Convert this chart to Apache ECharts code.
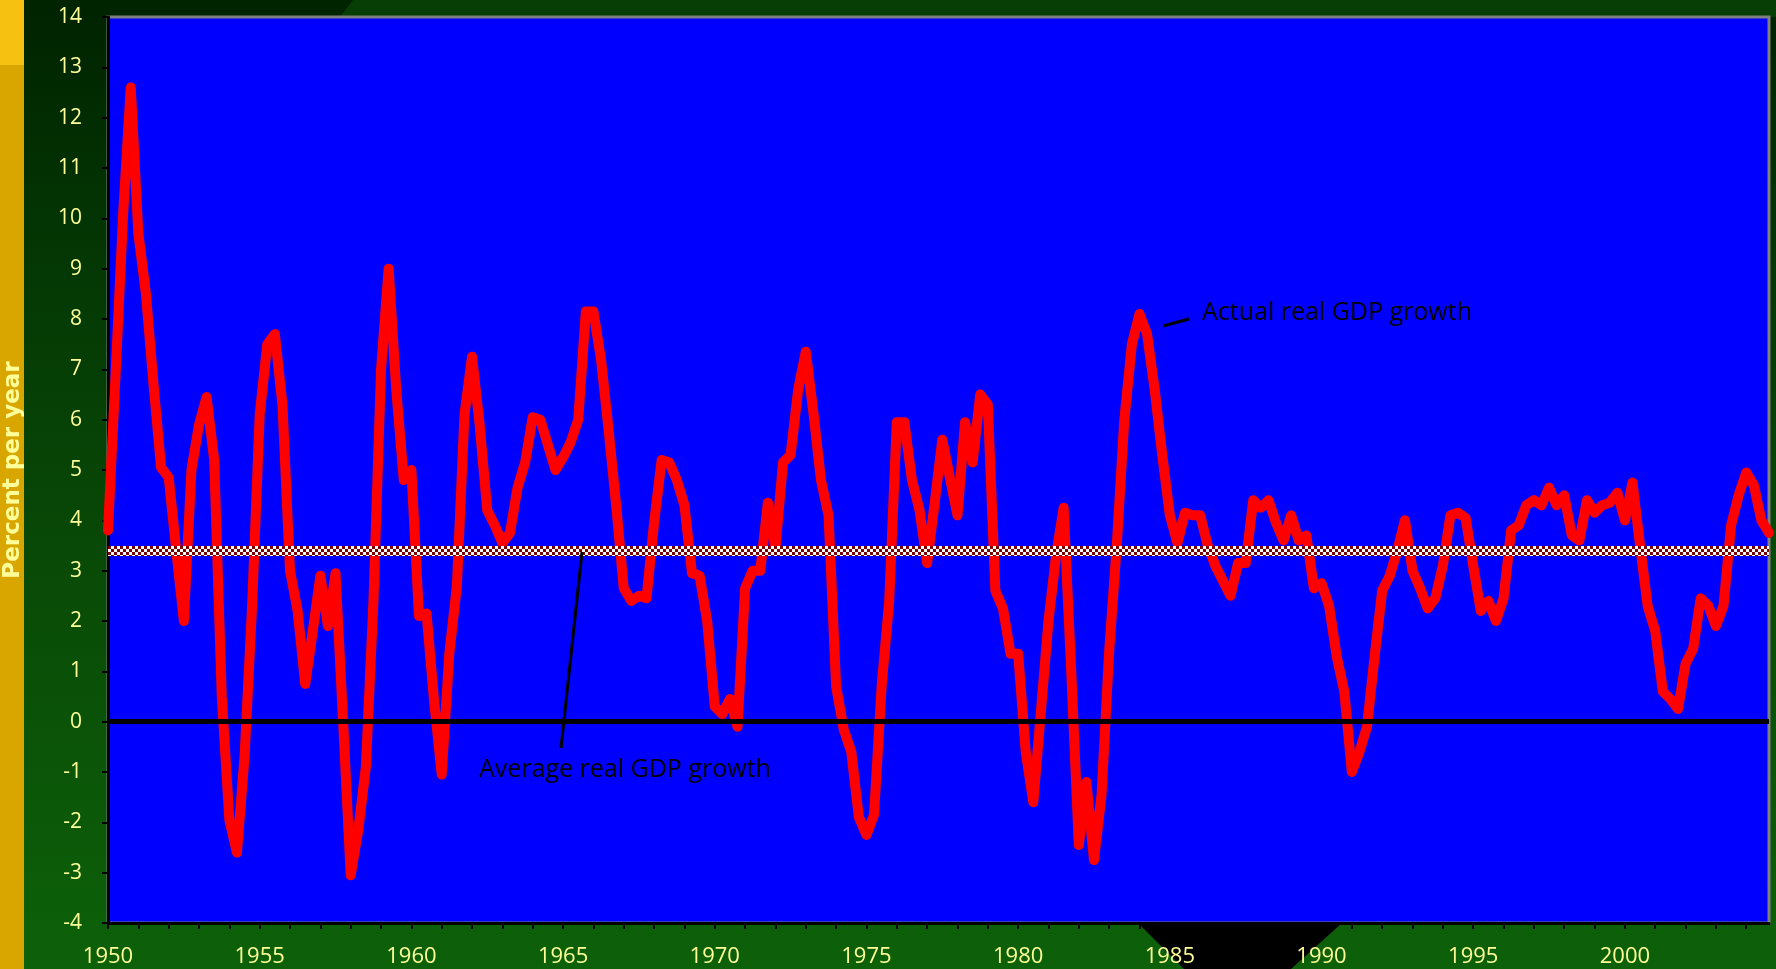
<!DOCTYPE html>
<html>
<head>
<meta charset="utf-8">
<title>Actual vs. average real GDP growth</title>
<script src="https://cdn.jsdelivr.net/npm/echarts@6/dist/echarts.min.js"></script>
<style>
  html, body { margin: 0; padding: 0; overflow: hidden; background: #043804; }
  #stage { position: relative; width: 1776px; height: 969px; overflow: hidden; }
  .deco { position: absolute; }
  #bg { left: 0; top: 0; width: 1776px; height: 969px;
        background: linear-gradient(to bottom, #002300 0%, #043804 28%, #094c07 62%, #0d6109 100%); }
  #topband { left: 0; top: 0; width: 1776px; height: 17px; background: #063e06;
             clip-path: polygon(353px 0, 1776px 0, 1776px 17px, 340px 17px); }
  #strip { left: 0; top: 0; width: 24px; height: 969px; background: #d9a600; }
  #stripTop { left: 0; top: 0; width: 24px; height: 65px; background: #f6c111; }
  #tab { left: 0; top: 0; width: 1776px; height: 969px; background: #000;
         clip-path: polygon(1138px 923px, 1342px 923px, 1291px 969px, 1184px 969px); }
  #chart { position: absolute; left: 0; top: 0; width: 1776px; height: 969px; }
</style>
</head>
<body>
<div id="stage">
  <div class="deco" id="bg"></div>
  <div class="deco" id="topband"></div>
  <div class="deco" id="strip"></div>
  <div class="deco" id="stripTop"></div>
  <div class="deco" id="tab"></div>
  <div id="chart"></div>
</div>
<script>
// Quarterly range of the series
const firstYear = 1950;
const lastYear = 2004;

// Year-over-year real GDP growth, percent, one value per quarter (1950Q1 .. 2004Q4)
const growth1950s = [
  3.8, 6.9, 10.1, 12.6, 9.7, 8.5, 6.7, 5.05, 4.85, 3.4,
  2.0, 5.0, 5.9, 6.45, 5.2, 0.5, -1.95, -2.6, -0.7, 2.3,
  6.1, 7.5, 7.7, 6.3, 3.0, 2.2, 0.75, 1.8, 2.9, 1.9,
  2.95, 0.0, -3.05, -2.15, -0.9, 2.4, 7.0, 9.0, 6.6, 4.8
];
const growth1960s = [
  5.0, 2.1, 2.15, 0.4, -1.05, 1.35, 2.7, 6.1, 7.25, 5.9,
  4.2, 3.9, 3.55, 3.75, 4.65, 5.15, 6.05, 6.0, 5.5, 5.0,
  5.25, 5.55, 6.0, 8.15, 8.15, 7.2, 5.8, 4.3, 2.65, 2.4,
  2.5, 2.45, 3.95, 5.2, 5.15, 4.8, 4.3, 2.95, 2.9, 2.0
];
const growth1970s = [
  0.3, 0.15, 0.45, -0.1, 2.65, 3.0, 3.0, 4.35, 3.45, 5.15,
  5.3, 6.6, 7.35, 6.15, 4.8, 4.1, 0.7, -0.15, -0.6, -1.9,
  -2.25, -1.85, 0.7, 2.4, 5.95, 5.95, 4.8, 4.2, 3.15, 4.35,
  5.6, 4.85, 4.1, 5.95, 5.15, 6.5, 6.3, 2.6, 2.25, 1.35
];
const growth1980s = [
  1.35, -0.6, -1.6, 0.2, 2.0, 3.3, 4.25, 1.0, -2.45, -1.2,
  -2.75, -1.45, 1.4, 3.5, 6.0, 7.5, 8.1, 7.7, 6.6, 5.3,
  4.1, 3.55, 4.15, 4.1, 4.1, 3.5, 3.1, 2.8, 2.5, 3.15,
  3.15, 4.4, 4.25, 4.4, 3.95, 3.6, 4.1, 3.6, 3.7, 2.65
];
const growth1990s = [
  2.75, 2.3, 1.3, 0.6, -1.0, -0.6, -0.1, 1.3, 2.6, 2.9,
  3.4, 4.0, 3.0, 2.65, 2.25, 2.45, 3.1, 4.1, 4.15, 4.05,
  3.1, 2.2, 2.4, 2.0, 2.45, 3.8, 3.9, 4.3, 4.4, 4.3,
  4.65, 4.3, 4.5, 3.7, 3.6, 4.4, 4.15, 4.3, 4.35, 4.55
];
const growth2000s = [
  4.0, 4.75, 3.5, 2.3, 1.8, 0.6, 0.45, 0.25, 1.15, 1.45,
  2.45, 2.3, 1.9, 2.3, 3.9, 4.5, 4.95, 4.7, 4.0, 3.75
];

// Long-run average growth drawn as the reference band
const averageGrowth = 3.4;

// Value axis range and step
const yMin = -4;
const yMax = 14;
const yStep = 1;

const growth = [].concat(growth1950s, growth1960s, growth1970s, growth1980s, growth1990s, growth2000s);

const quarters = [];
for (let y = firstYear; y <= lastYear; y++) {
  for (let q = 1; q <= 4; q++) quarters.push(y + 'Q' + q);
}

// Dark red / white checker used for the average line
const checker = document.createElement('canvas');
checker.width = 6; checker.height = 6;
(function () {
  const c = checker.getContext('2d');
  c.fillStyle = '#ffffff'; c.fillRect(0, 0, 6, 6);
  c.fillStyle = '#7c0000'; c.fillRect(0, 0, 3, 3); c.fillRect(3, 3, 3, 3);
})();

const labelColor = '#ffff99';
const textFont = 'Open Sans';
const chart = echarts.init(document.getElementById('chart'), null, { renderer: 'canvas' });

chart.setOption({
  backgroundColor: 'transparent',
  animation: false,
  grid: {
    left: 108, right: 7, top: 17, bottom: 46,
    outerBoundsMode: 'none',
    containLabel: false,
    show: true, backgroundColor: '#0000ff',
    borderColor: '#808080', borderWidth: 3
  },
  xAxis: {
    type: 'category',
    data: quarters,
    boundaryGap: false,
    axisLine: { show: true, onZero: false, lineStyle: { color: '#000', width: 3 } },
    axisTick: { show: true, interval: 3, length: 6, inside: false, lineStyle: { color: '#000', width: 2 } },
    axisLabel: {
      interval: 19, margin: 23, color: labelColor,
      fontFamily: textFont, fontSize: 22,
      formatter: v => v.slice(0, 4)
    },
    splitLine: { show: false }
  },
  yAxis: {
    type: 'value',
    min: yMin, max: yMax, interval: yStep,
    name: 'Percent per year',
    nameLocation: 'middle', nameRotate: 90, nameGap: 83,
    nameTextStyle: { color: labelColor, fontFamily: 'DejaVu Sans', fontWeight: 'bold', fontSize: 23 },
    axisLine: { show: true, onZero: false, lineStyle: { color: '#000', width: 3 } },
    axisTick: { show: true, length: 6, lineStyle: { color: '#000', width: 2 } },
    axisLabel: { margin: 26, color: labelColor, fontFamily: textFont, fontSize: 21 },
    splitLine: { show: false }
  },
  series: [
    {
      name: 'Actual real GDP growth',
      type: 'line',
      data: growth,
      showSymbol: false,
      symbol: 'none',
      silent: true,
      z: 3,
      lineStyle: { color: '#ff0000', width: 10, cap: 'round', join: 'round' }
    },
    {
      name: 'Average real GDP growth',
      type: 'line',
      data: [],
      silent: true,
      z: 4,
      markLine: {
        silent: true,
        symbol: ['none', 'none'],
        label: { show: false },
        data: [
          { yAxis: averageGrowth, lineStyle: { color: { image: checker, repeat: 'repeat' }, width: 10, type: 'solid' } },
          { yAxis: 0, lineStyle: { color: '#000000', width: 5, type: 'solid' } }
        ]
      }
    }
  ],
  graphic: [
    { type: 'line', z: 100, shape: { x1: 1163, y1: 326, x2: 1189, y2: 319 },
      style: { stroke: '#000', lineWidth: 3 } },
    { type: 'text', z: 100, x: 1202, y: 313,
      style: { text: 'Actual real GDP growth', fill: '#000', font: '25px "Open Sans"', textVerticalAlign: 'middle' } },
    { type: 'line', z: 100, shape: { x1: 582, y1: 552, x2: 561, y2: 748 },
      style: { stroke: '#000', lineWidth: 3 } },
    { type: 'text', z: 100, x: 479, y: 770,
      style: { text: 'Average real GDP growth', fill: '#000', font: '25px "Open Sans"', textVerticalAlign: 'middle' } }
  ]
});
</script>
</body>
</html>
